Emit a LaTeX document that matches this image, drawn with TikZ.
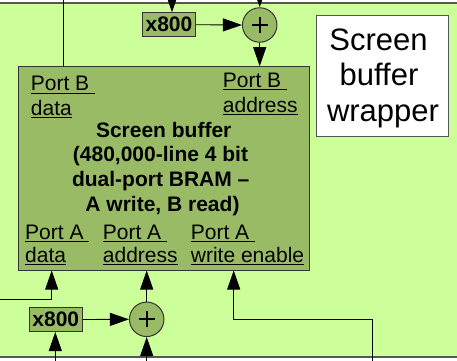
\documentclass[tikz,border=0pt]{standalone}
\usepackage{fontspec}
\setmainfont{Liberation Sans}
\usetikzlibrary{arrows.meta}
\definecolor{bgg}{HTML}{CCFF99}
\definecolor{boxg}{HTML}{99BB66}
\definecolor{edgec}{HTML}{333333}
\definecolor{framec}{HTML}{555555}
\newcommand{\myul}[1]{\setbox0=\hbox{#1}\rlap{\rule[-2.8pt]{\wd0}{0.9pt}}\box0}
\begin{document}
\begin{tikzpicture}[x=1pt,y=-1pt,
  lbl/.style={font=\fontsize{21}{24.5}\selectfont, inner sep=0pt, anchor=base west},
  ttl/.style={font=\fontsize{21}{24.5}\selectfont\bfseries, inner sep=0pt, anchor=base},
  wrp/.style={font=\fontsize{31}{35.5}\selectfont, inner sep=0pt, anchor=base},
  mulbox/.style={draw=edgec, fill=boxg, line width=1pt, minimum width=52.7pt, minimum height=24pt, inner sep=0pt, font=\fontsize{21}{24}\selectfont\bfseries},
  adder/.style={circle, draw=edgec, fill=boxg, line width=1pt, minimum size=34.5pt, inner sep=0pt,
    path picture={
      \draw[line width=2.2pt,black] ([xshift=-8pt]path picture bounding box.center) -- ([xshift=8pt]path picture bounding box.center);
      \draw[line width=2.2pt,black] ([yshift=-8pt]path picture bounding box.center) -- ([yshift=8pt]path picture bounding box.center);}},
  conn/.style={draw=black, line width=0.9pt},
  arr/.style={conn, -{Triangle[length=19pt,width=13pt]}},
]
\useasboundingbox (0,0) rectangle (457,360);
\fill[white] (0,0) rectangle (457,360);
% wrapper background
\fill[bgg] (-5,3) rectangle (462,357);
\draw[framec, line width=1.3pt] (-5,3) -- (462,3);
\draw[framec, line width=1.3pt] (-5,357) -- (462,357);

% main screen buffer box
\node[draw=edgec, fill=boxg, line width=1pt, minimum width=291pt, minimum height=203.3pt, inner sep=0pt] (sb) at (163.5,168.35) {};

% labels inside the box
\node[lbl] (pbd1) at (30.7,90.7) {\myul{Port B\ }};
\node[lbl] (pbd2) at (30.7,115) {\myul{data}};
\node[lbl] (pba1) at (222.7,87.5) {\myul{Port B\ }};
\node[lbl] (pba2) at (222.7,112) {\myul{address}};

\node[ttl] (t1l) at (163.7,137.3) {Screen buffer};
\node[ttl] (t2l) at (160.5,161.7) {(480,000-line 4 bit};
\node[ttl] (t3l) at (160.7,186.5) {dual-port BRAM --};
\node[ttl] (t4l) at (162.5,211.5) {A write, B read)};

\node[lbl] (pad1) at (25,239) {\myul{Port A\ }};
\node[lbl] (pad2) at (25,262) {\myul{data}};
\node[lbl] (paa1) at (102.7,239) {\myul{Port A\ }};
\node[lbl] (paa2) at (102.7,262) {\myul{address}};
\node[lbl] (paw1) at (190.7,239) {\myul{Port A\ }};
\node[lbl] (paw2) at (190.7,262) {\myul{write enable}};

% wrapper label
\node[draw=framec, fill=white, line width=1pt, minimum width=132.4pt, minimum height=121pt, inner sep=0pt] (wl) at (382.5,75.5) {};
\node[wrp] (wl1) at (378.5,50) {Screen};
\node[wrp] (wl2) at (379,85.5) {buffer};
\node[wrp] (wl3) at (383,121) {wrapper};

% top multiplier and adder
\node[mulbox] (m1) at (169,24.7) {x800};
\node[adder] (p1) at (259.7,25) {};
% bottom multiplier and adder
\node[mulbox] (m2) at (55.8,319.5) {x800};
\node[adder] (p2) at (146.7,319.3) {};

% connectors top
\coordinate (ti1) at (172,-3);
\coordinate (ti2) at (259.7,-3);
\coordinate (ti3) at (63.3,-3);
\draw[arr] (ti1) -- (ti1 |- m1.north);
\draw[arr] (ti2) -- (p1.north);
\draw[arr] (m1.east) -- (p1.west);
\draw[arr] (p1.south) -- (p1.south |- sb.north);
\draw[conn] (ti3) -- (ti3 |- sb.north);

% connectors bottom
\coordinate (bi1) at (55.3,363);
\coordinate (bi2) at (146.7,363);
\coordinate (bi3) at (372.7,363);
\coordinate (li1) at (-3,299.3);
\coordinate (ad) at (51.7,270);
\coordinate (we) at (233.7,319);
\draw[arr] (bi1) -- (bi1 |- m2.south);
\draw[arr] (bi2) -- (p2.south);
\draw[arr] (m2.east) -- (p2.west);
\draw[arr] (p2.north) -- (p2.north |- sb.south);
\draw[arr] (li1) -| (ad |- sb.south);
\draw[arr] (bi3) |- (we) -- (we |- sb.south);
\end{tikzpicture}
\end{document}
